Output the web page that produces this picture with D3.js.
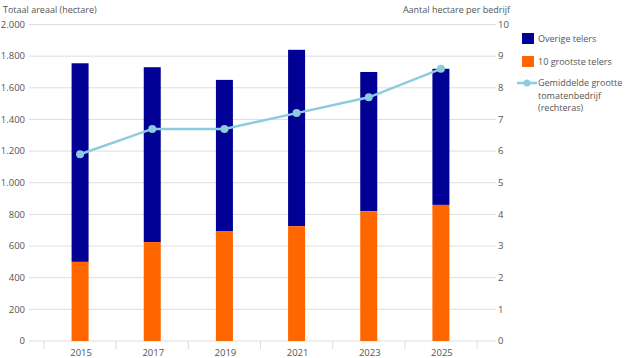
<!DOCTYPE html>
<html><head><meta charset="utf-8">
<script src="https://cdn.jsdelivr.net/npm/d3@7"></script>
<style>body{margin:0;background:#fff;} text{font-family:"Open Sans",sans-serif;}</style>
</head><body>
<svg id="c" width="626" height="358"></svg>
<script>
const years = ["2015","2017","2019","2021","2023","2025"];
const top10 = [500, 625, 695, 725, 820, 860];
const totals = [1755, 1730, 1650, 1840, 1700, 1720];
const avgSize = [5.9, 6.7, 6.7, 7.2, 7.7, 8.6];
const leftTicks = [0,200,400,600,800,1000,1200,1400,1600,1800,2000];
const rightTicks = [0,1,2,3,4,5,6,7,8,9,10];
const seriesNames = ["Overige telers","10 grootste telers","Gemiddelde grootte tomatenbedrijf (rechteras)"];
const colors = {overig:"#000094", top:"#ff6600", line:"#8dcbdf", grid:"#dddddd", text:"#555555"};
const fs = 9;

const svg = d3.select("#c");
const x = d3.scaleBand().domain(years).range([44, 477]);
const yL = d3.scaleLinear().domain([0,2000]).range([341, 24.5]);
const yR = d3.scaleLinear().domain([0,10]).range([341, 24.5]);
const fmt = d => d3.format(",")(d).replace(/,/g, ".");

// grid
svg.append("g").selectAll("line").data(leftTicks).join("line")
  .attr("x1",29).attr("x2",496).attr("y1",d=>yL(d)).attr("y2",d=>yL(d))
  .attr("stroke",colors.grid).attr("stroke-width",1);

// left labels
svg.append("g").selectAll("text").data(leftTicks).join("text")
  .attr("x",25).attr("y",d=>yL(d)).attr("dy","0.35em").attr("text-anchor","end")
  .attr("font-size",9.5).attr("fill",colors.text).text(fmt);
// right labels
svg.append("g").selectAll("text").data(rightTicks).join("text")
  .attr("x",498).attr("y",d=>yR(d)).attr("dy","0.35em").attr("text-anchor","start")
  .attr("font-size",9.5).attr("fill",colors.text).text(d=>d);

// titles
svg.append("text").attr("x",3).attr("y",12.5).attr("font-size",fs).attr("fill",colors.text).text("Totaal areaal (hectare)");
svg.append("text").attr("x",510).attr("y",12.5).attr("text-anchor","end").attr("font-size",fs).attr("fill",colors.text).text("Aantal hectare per bedrijf");

// x axis ticks
const bounds = years.map(y=>x(y)).concat([x.range()[1]]);
svg.append("g").selectAll("line").data(bounds).join("line")
  .attr("x1",d=>d).attr("x2",d=>d).attr("y1",341).attr("y2",349)
  .attr("stroke",colors.grid).attr("stroke-width",1);
svg.append("g").selectAll("text").data(years).join("text")
  .attr("x",d=>x(d)+x.bandwidth()/2+1).attr("y",356).attr("text-anchor","middle")
  .attr("font-size",9.5).attr("fill",colors.text).text(d=>d);

// bars
const bw = 17;
const bars = svg.append("g");
years.forEach((yr,i)=>{
  const cx = x(yr)+x.bandwidth()/2;
  bars.append("rect").attr("x",cx-bw/2).attr("width",bw)
    .attr("y",yL(totals[i])).attr("height",yL(top10[i])-yL(totals[i])).attr("fill",colors.overig);
  bars.append("rect").attr("x",cx-bw/2).attr("width",bw)
    .attr("y",yL(top10[i])).attr("height",yL(0)-yL(top10[i])).attr("fill",colors.top);
});

// line
const line = d3.line().x((d,i)=>x(years[i])+x.bandwidth()/2).y(d=>yR(d));
svg.append("path").datum(avgSize).attr("d",line).attr("fill","none")
  .attr("stroke",colors.line).attr("stroke-width",2.5);
svg.append("g").selectAll("circle").data(avgSize).join("circle")
  .attr("cx",(d,i)=>x(years[i])+x.bandwidth()/2).attr("cy",d=>yR(d)).attr("r",4)
  .attr("fill",colors.line);

// legend
const lg = svg.append("g");
lg.append("rect").attr("x",522).attr("y",33).attr("width",12).attr("height",11).attr("fill",colors.overig);
lg.append("text").attr("x",538).attr("y",38.5).attr("dy","0.35em").attr("font-size",fs).attr("fill",colors.text).text(seriesNames[0]);
lg.append("rect").attr("x",522).attr("y",56).attr("width",12).attr("height",11).attr("fill",colors.top);
lg.append("text").attr("x",538).attr("y",61.5).attr("dy","0.35em").attr("font-size",fs).attr("fill",colors.text).text(seriesNames[1]);
lg.append("line").attr("x1",517).attr("x2",537).attr("y1",83).attr("y2",83).attr("stroke",colors.line).attr("stroke-width",2.5);
lg.append("circle").attr("cx",527).attr("cy",83).attr("r",3.5).attr("fill",colors.line);
const t = lg.append("text").attr("font-size",fs).attr("fill",colors.text);
["Gemiddelde grootte","tomatenbedrijf","(rechteras)"].forEach((s,i)=>{
  t.append("tspan").attr("x",538).attr("y",83+i*12.5).attr("dy","0.35em").text(s);
});
</script>
</body></html>
